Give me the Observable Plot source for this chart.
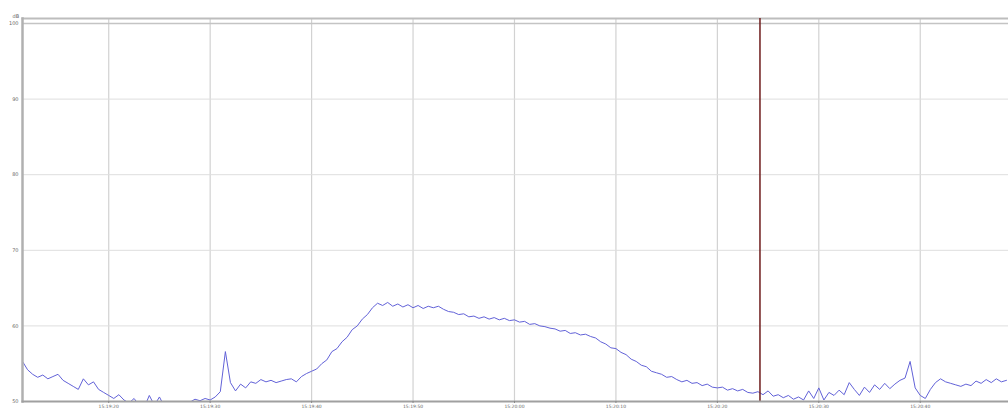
<!DOCTYPE html>
<html>
<head>
<meta charset="utf-8">
<script src="https://cdn.jsdelivr.net/npm/d3@7"></script>
<script src="https://cdn.jsdelivr.net/npm/@observablehq/plot@0.6"></script>
<style>
  html, body { margin: 0; padding: 0; background: #fff; }
  #chart svg { display: block; }
</style>
</head>
<body>
<div id="chart"></div>
<script>
// Sampling: one reading every 0.5 s, first at 15:19:11.5
const startTime = "2024-01-01T15:19:11.500";
const stepSeconds = 0.5;
// Sound level readings (dB)
const levels = [
  55.3, 54.2, 53.6, 53.2, 53.5, 53.0, 53.3, 53.6, 52.8, 52.4, 52.0, 51.6,
  53.0, 52.2, 52.6, 51.6, 51.2, 50.8, 50.4, 50.9, 50.2, 49.8, 50.4, 49.5,
  49.2, 50.8, 49.5, 50.6, 49.3, 48.8, 48.5, 48.5, 48.8, 49.9, 50.3, 50.1,
  50.4, 50.2, 50.6, 51.3, 56.6, 52.5, 51.4, 52.3, 51.8, 52.6, 52.4, 52.9,
  52.6, 52.8, 52.5, 52.7, 52.9, 53.0, 52.6, 53.3, 53.7, 54.0, 54.3, 55.0,
  55.5, 56.6, 57.0, 57.9, 58.5, 59.5, 60.0, 60.9, 61.5, 62.4, 63.0, 62.7,
  63.1, 62.6, 62.9, 62.5, 62.8, 62.4, 62.7, 62.3, 62.6, 62.4, 62.6, 62.2,
  61.9, 61.8, 61.5, 61.6, 61.2, 61.3, 61.0, 61.2, 60.9, 61.1, 60.8, 61.0,
  60.7, 60.8, 60.5, 60.6, 60.2, 60.3, 60.0, 59.9, 59.7, 59.6, 59.3, 59.4,
  59.0, 59.1, 58.8, 58.9, 58.6, 58.4, 57.9, 57.6, 57.1, 57.0, 56.5, 56.2,
  55.6, 55.3, 54.8, 54.6, 54.0, 53.8, 53.6, 53.2, 53.3, 52.9, 52.6, 52.8,
  52.4, 52.5, 52.1, 52.3, 51.9, 51.8, 51.9, 51.5, 51.7, 51.4, 51.6, 51.2,
  51.1, 51.3, 50.9, 51.4, 50.7, 50.9, 50.5, 50.8, 50.3, 50.6, 50.2, 51.4,
  50.4, 51.8, 50.2, 51.2, 50.8, 51.5, 50.9, 52.5, 51.6, 50.8, 51.9, 51.2,
  52.2, 51.6, 52.4, 51.7, 52.3, 52.8, 53.1, 55.3, 51.8, 50.8, 50.4, 51.6,
  52.5, 53.0, 52.6, 52.4, 52.2, 52.0, 52.3, 52.1, 52.7, 52.4, 52.9, 52.5,
  53.0, 52.6, 52.8
];
const xDomain = ["2024-01-01T15:19:11.500", "2024-01-01T15:20:48.700"];
const cursorTime = "2024-01-01T15:20:24.200";
const yTicks = [50, 60, 70, 80, 90, 100];
const yDomain = [50, 100];
const unitLabel = "dB";

const t0 = new Date(startTime).getTime();
const data = levels.map((v, i) => ({ time: new Date(t0 + i * stepSeconds * 1000), level: v }));
const xTicks = d3.timeSecond.every(10).range(new Date(xDomain[0]), new Date(xDomain[1]));

const chart = Plot.plot({
  width: 1008,
  height: 410,
  marginLeft: 22,
  marginRight: 0,
  marginTop: 18,
  marginBottom: 9,
  style: { fontFamily: "DejaVu Sans, sans-serif", background: "#fff" },
  x: { type: "time", domain: xDomain.map(d => new Date(d)) },
  y: { domain: yDomain, insetTop: 5 },
  marks: [
    Plot.gridX(xTicks, { stroke: "#d2d2d2", strokeOpacity: 1, strokeWidth: 1.2 }),
    Plot.gridY(yTicks, { stroke: "#dedede", strokeOpacity: 1, strokeWidth: 1 }),
    Plot.frame({ anchor: "top", stroke: "#bdbdbd", strokeWidth: 2 }),
    Plot.ruleY([yDomain[1]], { stroke: "#c4c4c4", strokeWidth: 1.5 }),
    Plot.line(data, { x: "time", y: "level", stroke: "#6262d8", strokeWidth: 1, clip: true }),
    Plot.ruleX([new Date(cursorTime)], { stroke: "#6e1b1b", strokeWidth: 1.5 }),
    Plot.frame({ anchor: "left", stroke: "#b0b0b0", strokeWidth: 2.5 }),
    Plot.frame({ anchor: "bottom", stroke: "#a0a0a0", strokeWidth: 2 }),
    Plot.axisY(yTicks, { tickSize: 0, tickPadding: 4, fontSize: 5, fill: "#666", label: null }),
    Plot.axisX(xTicks, { tickSize: 2, tickPadding: 1, fontSize: 4.5, fill: "#666", stroke: "#888", tickFormat: d3.timeFormat("%H:%M:%S"), label: null }),
    Plot.text([unitLabel], { frameAnchor: "top-left", dx: -10, dy: -4, fontSize: 5, fill: "#666" })
  ]
});
document.getElementById("chart").appendChild(chart);
</script>
</body>
</html>
